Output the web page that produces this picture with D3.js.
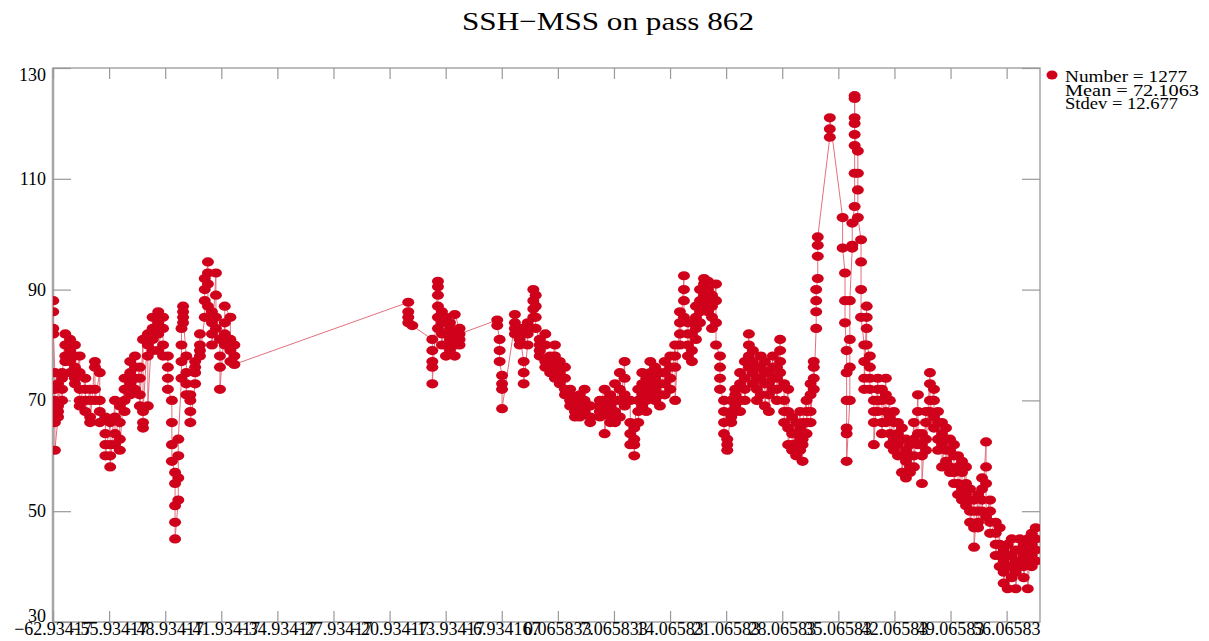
<!DOCTYPE html>
<html>
<head>
<meta charset="utf-8">
<script src="https://cdn.jsdelivr.net/npm/d3@7"></script>
<style>
  html, body { margin: 0; padding: 0; background: #fff; }
  svg { display: block; }
  text { font-family: "Liberation Serif", "Times New Roman", serif; fill: #000; }
</style>
</head>
<body>
<svg id="chart" width="1209" height="641"></svg>
<script>
// ---------- data ----------
const title = "SSH\u2212MSS on pass 862";
const legendLines = ["Number = 1277", "Mean = 72.1063", "Stdev = 12.677"];
const yTicks = [30, 50, 70, 90, 110, 130];
const xTickStart = -62.934167;
const xTickStep = 7;
const xTickCount = 18;
const xDomain = [-62.934167, 60.23];
const yDomain = [30, 130];

// along-track position of each group of consecutive samples
const colX = [
  -62.9, -62.7, -62.3, -61.8, -61.4, -60.8, -60.2, -59.6, -58.9, -58.3,
  -57.7, -57.1, -56.4, -55.8, -55.2, -54.6, -54.0, -53.3, -52.7, -52.1,
  -51.7, -51.1, -50.5, -49.8, -49.2, -48.6, -48.1, -47.7, -47.3, -46.9,
  -46.7, -46.3, -45.8, -45.2, -44.6, -44.0, -43.6, -43.1, -42.6, -42.1,
  -41.5, -40.8, -40.3,
  -18.6, -18.1, -15.6, -14.9, -14.4, -13.9, -13.4, -12.8, -12.2,
  -7.5, -7.2, -6.9,
  -5.3, -4.7, -4.2, -3.7, -3.0, -2.7, -2.2, -1.5, -0.9, -0.3,
  0.3, 0.95, 1.6, 2.2, 2.8, 3.4, 4.1, 5.3, 5.9, 6.6,
  7.2, 7.8, 8.4, 9.1, 9.6, 10.1, 10.6, 11.1, 11.6, 12.2,
  12.8, 13.4, 14.1, 14.7, 15.3, 15.8, 16.3, 16.8, 17.3, 17.8,
  18.3, 18.8, 19.3, 19.8, 20.3, 20.8, 21.2, 21.7, 22.2, 22.8,
  23.4, 23.9, 24.4, 24.9, 25.4, 25.9, 26.4, 26.9, 27.4, 27.8,
  28.3, 28.8, 29.3, 29.8, 30.3, 30.6, 31.1, 31.6, 32.0, 32.3,
  32.5, 34.0, 35.6, 35.9, 36.1, 36.5, 36.8, 37.1, 37.5, 37.9,
  38.3, 38.6, 39.0, 39.5, 40.0, 40.5, 41.0, 41.5, 42.0, 42.5,
  43.0, 43.5, 44.0, 44.5, 45.0, 45.5, 46.0, 46.5, 47.0, 47.5,
  48.0, 48.5, 49.0, 49.5, 50.0, 50.5, 51.0, 51.5, 52.0, 52.5,
  53.0, 53.5, 54.0, 54.7, 55.2, 55.7, 56.2, 56.7, 57.2, 57.7,
  58.2, 58.7, 59.2, 59.7
];

// SSH-MSS samples of each group, in track order
const colSSH = [
  [88, 86, 83, 82], [75, 72, 70, 68, 66, 61], [67, 69, 73, 68], [75, 72, 70, 74], [82, 80, 78, 77],
  [81, 79, 77, 75], [80, 78, 76, 74, 73], [78, 75, 72, 70, 69], [74, 72, 70, 68], [72, 70, 67, 66],
  [77, 76, 72, 70], [75, 70, 68, 66], [67, 64, 62, 60], [66, 62, 60, 58], [70, 67, 64, 62],
  [69, 66, 63, 61], [74, 72, 70, 68], [77, 75, 73, 71], [78, 76, 74, 72], [76, 74, 71, 69],
  [81, 66, 65, 68], [82, 80, 78, 69], [85, 83, 81, 79], [86, 84, 82, 79], [85, 83, 80, 78],
  [78, 76, 74, 72], [70, 66, 62, 59], [57, 55, 51, 48, 45], [52, 56, 60, 63], [74, 77, 80, 83],
  [87, 86, 84, 85], [78, 75, 73, 71], [71, 70, 68, 66], [73, 75, 77, 76], [80, 82, 79, 78],
  [85, 88, 92, 90], [95, 93, 91, 87], [86, 84, 82, 80], [93, 89, 85, 83], [81, 78, 76, 72],
  [84, 82, 80, 87], [85, 81, 79, 77], [80, 78, 76.5],
  [87.7, 86, 85, 84], [83.5], [81, 79, 77, 76, 73], [91.5, 90.5, 89, 87, 85, 83], [84, 82, 80, 86],
  [85, 82, 80, 78], [84, 81, 79, 83], [82, 80, 78, 85.5], [83, 81, 80, 82],
  [84.5, 83.5], [81, 79, 77], [74.5, 73, 72, 68.5],
  [84, 85.5, 83, 82], [83, 81, 80, 82], [77, 75, 73], [80, 82, 84, 83], [85, 86.5, 88, 90],
  [89, 87, 85, 83], [81, 80, 79, 78], [82, 80, 77, 76], [78, 76, 77, 75], [80, 78, 76, 74],
  [77, 75, 74, 73], [76, 74, 72, 71], [72, 71, 70, 69], [70, 68, 67, 69], [71, 69, 68, 67],
  [72, 70, 69, 68], [69, 67, 66], [70, 68, 67, 69], [72, 70, 68, 64], [71, 69, 67, 66],
  [73, 70, 68, 66], [75, 72, 70, 67], [77, 74, 71, 69], [70, 66, 64, 62], [63, 60, 62, 65],
  [72, 70, 68, 66], [75, 73, 71, 69], [74, 72, 70, 68], [77, 75, 73, 71], [76, 74, 72, 70],
  [75, 73, 71, 69], [77, 75, 73, 71], [78, 76, 74, 72], [80, 78, 76, 70], [86, 84, 82, 80],
  [92.5, 90, 88, 85], [84, 82, 80, 78], [84, 82, 79, 77], [87, 85, 83, 81], [90, 88, 86, 84],
  [92, 91, 89, 87], [91.5, 90, 88, 86], [89, 87, 85, 83], [91, 88, 84, 80], [78, 76, 74, 72],
  [70, 68, 66, 64], [62, 61, 63], [67, 66, 68, 70], [72, 71, 69, 68], [75, 73, 70, 68],
  [77, 74, 72, 70], [82, 80, 78, 76], [79, 77, 75, 73], [76, 74, 72, 70], [78, 76, 74, 71],
  [77, 75, 73, 69], [75, 73, 71, 68], [78, 76, 74, 72], [76, 74, 72, 70], [81, 79, 77, 75],
  [73, 70, 68, 66], [72, 68, 65, 62], [67, 64, 62, 61], [66, 64, 62, 60], [68, 65, 63, 61],
  [62, 59, 63, 66], [70, 68, 66, 64], [73, 71, 68, 66], [77, 76, 74, 72], [83, 86, 88, 90],
  [92, 96, 98, 99.5], [117.5, 119, 121], [103, 97.5], [93, 88, 84], [79, 75, 70, 65, 64, 59],
  [70, 76, 81, 88], [97.5, 98, 102], [105, 111, 116, 120, 124.5, 125, 121, 118], [115, 111, 108, 103], [99, 95, 90, 85],
  [80, 77, 74, 72], [87, 85, 83, 80], [78, 76, 74, 72], [70, 68, 66, 62], [74, 72, 70, 68],
  [72, 70, 66, 64], [74, 71, 68, 66], [70, 67, 64, 62], [68, 66, 63, 61], [66, 64, 62, 60],
  [65, 63, 60, 57], [63, 61, 59, 56], [62, 60, 58, 57], [66, 63, 60, 58], [71, 68, 64, 62],
  [64, 62, 60, 55], [68, 66, 63, 61], [75, 73, 70, 68], [72, 70, 67, 65], [68, 66, 63, 61],
  [66, 64, 62, 58], [65, 63, 61, 59], [63, 61, 58, 57], [62, 60, 57, 55], [60, 58, 55, 53],
  [59, 57, 54, 52], [58, 55, 53, 51], [54, 52, 50, 48], [52, 50, 47, 43.5], [53, 50, 48, 47],
  [56, 54, 52, 50], [62.5, 58, 55, 49], [52, 50, 48, 46], [48, 46, 44, 42], [47, 44, 42, 40],
  [43, 41, 39, 37], [44, 42, 40, 36], [45, 42, 40, 38], [43, 41, 39, 36], [45, 43, 41, 40],
  [44, 42, 40, 38], [45, 43, 41, 36], [46, 44, 42, 40], [47, 45, 43, 41]
];

// ---------- layout ----------
const svg = d3.select("#chart");
const plot = { left: 53, right: 1040, top: 68, bottom: 622 };

const x = d3.scaleLinear().domain(xDomain).range([plot.left, plot.right]);
const y = d3.scaleLinear().domain(yDomain).range([plot.bottom, plot.top]);

const points = [];
colX.forEach((cx, i) => colSSH[i].forEach(v => points.push({ x: cx, y: v })));

const fmt = v => String(Number(v.toPrecision(7))).replace("-", "\u2212");
const xTickVals = d3.range(xTickCount).map(i => xTickStart + xTickStep * i);

// title
svg.append("text")
  .attr("x", 608).attr("y", 30)
  .attr("text-anchor", "middle")
  .style("font-size", "26px")
  .attr("textLength", 292).attr("lengthAdjust", "spacingAndGlyphs")
  .text(title);

// frame
const axisColor = "#a6a6a6";
svg.append("rect")
  .attr("x", plot.left).attr("y", plot.top)
  .attr("width", plot.right - plot.left).attr("height", plot.bottom - plot.top)
  .attr("fill", "none").attr("stroke", axisColor).attr("stroke-width", 1.5);
svg.append("line")
  .attr("x1", plot.left).attr("x2", plot.left).attr("y1", plot.top).attr("y2", plot.bottom)
  .attr("stroke", axisColor).attr("stroke-width", 2.5);

// axes via d3
const gL = svg.append("g").attr("transform", `translate(${plot.left},0)`)
  .call(d3.axisRight(y).tickValues(yTicks).tickSize(18).tickFormat(""));
const gR = svg.append("g").attr("transform", `translate(${plot.right},0)`)
  .call(d3.axisLeft(y).tickValues(yTicks).tickSize(18).tickFormat(""));
const gB = svg.append("g").attr("transform", `translate(0,${plot.bottom})`)
  .call(d3.axisTop(x).tickValues(xTickVals).tickSize(11).tickFormat(""));
const gT = svg.append("g").attr("transform", `translate(0,${plot.top})`)
  .call(d3.axisBottom(x).tickValues(xTickVals).tickSize(11).tickFormat(""));
[gL, gR, gB, gT].forEach(g => {
  g.select(".domain").remove();
  g.selectAll(".tick line").attr("stroke", "#999").attr("stroke-width", 1.2);
});

// y labels (end labels kept inside the frame height, as in the reference)
svg.append("g").selectAll("text").data(yTicks).join("text")
  .attr("x", 46)
  .attr("y", d => {
    const c = Math.min(Math.max(y(d), plot.top + 7), plot.bottom - 6);
    return c + 6;
  })
  .attr("text-anchor", "end")
  .style("font-size", "18px")
  .text(d => d);

// x labels
svg.append("g").selectAll("text").data(xTickVals).join("text")
  .attr("x", d => x(d)).attr("y", 635)
  .attr("text-anchor", "middle")
  .style("font-size", "18px")
  .text(d => fmt(d));

// data
const red = "#d0021b";
svg.append("clipPath").attr("id", "clip").append("rect")
  .attr("x", plot.left).attr("y", plot.top)
  .attr("width", plot.right - plot.left).attr("height", plot.bottom - plot.top);
const gd = svg.append("g").attr("clip-path", "url(#clip)");
gd.append("path")
  .datum(points)
  .attr("fill", "none")
  .attr("stroke", "#e3707e")
  .attr("stroke-width", 1)
  .attr("d", d3.line().x(d => x(d.x)).y(d => y(d.y)));
gd.selectAll("ellipse").data(points).join("ellipse")
  .attr("cx", d => x(d.x)).attr("cy", d => y(d.y))
  .attr("rx", 6).attr("ry", 4.6)
  .attr("fill", red);

// legend
svg.append("ellipse").attr("cx", 1052).attr("cy", 75).attr("rx", 5.5).attr("ry", 4.5).attr("fill", red);
const legW = [122, 134, 113];
svg.append("g").selectAll("text").data(legendLines).join("text")
  .attr("x", 1065).attr("y", (d, i) => 82 + i * 13.5)
  .style("font-size", "16px")
  .attr("textLength", (d, i) => legW[i]).attr("lengthAdjust", "spacingAndGlyphs")
  .text(d => d);
</script>
</body>
</html>
